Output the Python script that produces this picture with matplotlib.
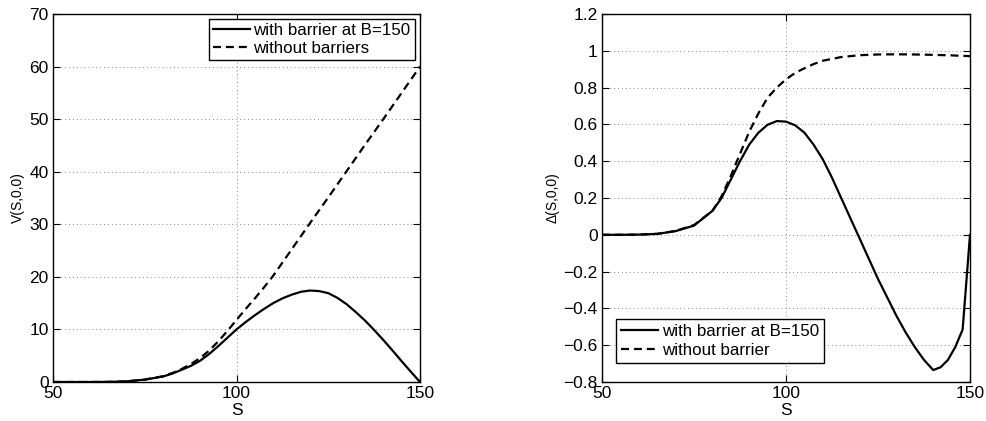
import matplotlib
matplotlib.use("Agg")
import matplotlib.pyplot as plt

plt.rcParams['font.family'] = ['Liberation Sans', 'DejaVu Sans']
plt.rcParams['font.size'] = 12

# ---- Left panel data: option value V(S,0,0)
S_v = [50, 55, 60, 65, 70, 75, 80, 82.5, 85, 87.5, 90, 92.5, 95, 97.5, 100, 102.5, 105, 107.5, 110,
       112.5, 115, 117.5, 120, 122.5, 125, 127.5, 130, 132.5, 135, 137.5, 140, 142.5, 145, 147.5, 150]
V_barrier = [0, 0, 0, 0.02, 0.12, 0.45, 1.05, 1.6, 2.3, 3.05, 4.0, 5.3, 6.8, 8.4, 10.0, 11.4, 12.7, 13.9, 15.0,
             15.9, 16.6, 17.15, 17.4, 17.3, 16.9, 16.0, 14.8, 13.3, 11.7, 9.9, 8.0, 6.0, 3.95, 1.95, 0]
V_nobarrier = [0, 0, 0, 0.02, 0.12, 0.45, 1.1, 1.7, 2.45, 3.4, 4.5, 5.95, 7.7, 9.7, 11.8, 13.9, 15.9, 18.0, 20.2,
               22.7, 25.2, 27.7, 30.2, 32.65, 35.1, 37.6, 40.1, 42.6, 45.1, 47.55, 50.0, 52.5, 55.0, 57.5, 60.0]

# ---- Right panel data: Delta(S,0,0)
S_d = [50, 55, 60, 65, 70, 75, 80, 82.5, 85, 87.5, 90, 92.5, 95, 97.5, 100, 102.5, 105, 107.5,
       110, 112.5, 115, 117.5, 120, 122.5, 125, 127.5, 130, 132.5, 135, 137.5, 140, 142, 144, 146, 148, 150]
D_barrier = [0, 0, 0.001, 0.005, 0.02, 0.05, 0.13, 0.2, 0.3, 0.4, 0.49, 0.555, 0.598, 0.618, 0.615, 0.595,
             0.555, 0.49, 0.41, 0.31, 0.2, 0.09, -0.02, -0.13, -0.24, -0.34, -0.44, -0.53, -0.61, -0.68,
             -0.735, -0.72, -0.68, -0.61, -0.515, 0.0]
S_dn = [50, 55, 60, 65, 70, 75, 80, 82.5, 85, 87.5, 90, 92.5, 95, 97.5, 100, 102.5, 105, 107.5,
        110, 115, 120, 125, 130, 135, 140, 145, 150]
D_nobarrier = [0, 0, 0.001, 0.005, 0.021, 0.053, 0.13, 0.21, 0.32, 0.44, 0.56, 0.66, 0.745, 0.80, 0.845,
               0.88, 0.905, 0.928, 0.946, 0.966, 0.976, 0.98, 0.981, 0.98, 0.978, 0.975, 0.971]

fig = plt.figure(figsize=(9.86, 4.21), dpi=100)
W, H = 986, 421
ax1 = fig.add_axes([53 / W, 1 - 382 / H, (420 - 53) / W, (382 - 14) / H])
ax2 = fig.add_axes([602 / W, 1 - 382 / H, (970 - 602) / W, (382 - 14) / H])

lw = 1.6
for ax in (ax1, ax2):
    ax.grid(True, linestyle=(0, (1, 3)), color='#888888', linewidth=0.7)
    ax.tick_params(direction='in', top=True, right=True, length=5, width=0.8, labelsize=12.5, pad=3)
    for sp in ax.spines.values():
        sp.set_linewidth(1.0)
    ax.set_axisbelow(True)

ax1.plot(S_v, V_barrier, '-', color='black', lw=lw, label='with barrier at B=150')
ax1.plot(S_v, V_nobarrier, color='black', lw=lw, linestyle=(0, (3.6, 2.2)), label='without barriers')
ax1.set_xlim(50, 150)
ax1.set_ylim(0, 70)
ax1.set_xticks([50, 100, 150])
ax1.set_yticks(range(0, 71, 10))
ax1.set_xlabel('S', fontsize=12.5, labelpad=1)
ax1.set_ylabel('V(S,0,0)', fontsize=10, labelpad=3)
leg1 = ax1.legend(loc='upper right', bbox_to_anchor=(0.986, 0.986), fontsize=12.2, frameon=True,
                  fancybox=False, edgecolor='black', framealpha=1, handlelength=2.2,
                  handletextpad=0.2, borderpad=0.25, labelspacing=0.15, borderaxespad=0)
leg1.get_frame().set_linewidth(1.0)

ax2.plot(S_d, D_barrier, '-', color='black', lw=lw, label='with barrier at B=150')
ax2.plot(S_dn, D_nobarrier, color='black', lw=lw, linestyle=(0, (3.6, 2.2)), label='without barrier')
ax2.set_xlim(50, 150)
ax2.set_ylim(-0.8, 1.2)
ax2.set_xticks([50, 100, 150])
ax2.set_yticks([-0.8, -0.6, -0.4, -0.2, 0, 0.2, 0.4, 0.6, 0.8, 1.0, 1.2])
ax2.set_yticklabels(['\u22120.8', '\u22120.6', '\u22120.4', '\u22120.2', '0', '0.2', '0.4', '0.6', '0.8', '1', '1.2'])
ax2.set_xlabel('S', fontsize=12.5, labelpad=1)
ax2.set_ylabel('\u0394(S,0,0)', fontsize=10, labelpad=3)
leg2 = ax2.legend(loc='lower left', bbox_to_anchor=(0.038, 0.052), fontsize=12.2, frameon=True,
                  fancybox=False, edgecolor='black', framealpha=1, handlelength=2.2,
                  handletextpad=0.2, borderpad=0.3, labelspacing=0.2, borderaxespad=0)
leg2.get_frame().set_linewidth(1.0)

fig.savefig('out.png', dpi=100)
